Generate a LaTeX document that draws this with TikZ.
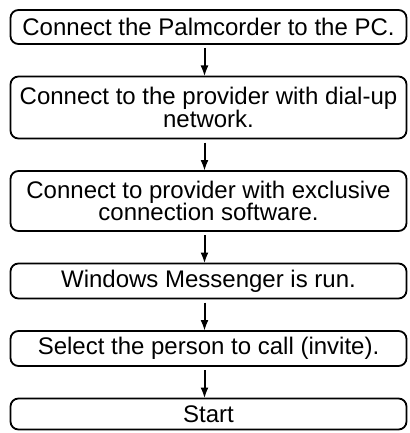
\documentclass[tikz,border=0pt]{standalone}
\usepackage{fontspec}
\setmainfont{Liberation Sans}
\usetikzlibrary{arrows.meta,positioning}

\tikzset{
  task/.style={draw, line width=1.8pt, rounded corners=8pt, minimum width=396pt,
    inner sep=2pt, outer sep=0pt, align=center,
    font=\fontsize{24}{22.5}\selectfont},
  flow/.style={-{Latex[length=11pt,width=8pt]}, line width=2pt, shorten <=4pt}
}

\begin{document}
\begin{tikzpicture}[node distance=32.5pt]
  \useasboundingbox (0pt,0pt) rectangle (409pt,-433pt);
  \node[task, minimum height=34pt] (palm) at (208.5pt,-27pt) {Connect the Palmcorder to the PC.};
  \node[task, minimum height=62pt] (dialup) [below=of palm] {Connect to the provider with dial-up\\network.};
  \node[task, minimum height=60pt] (soft) [below=of dialup] {Connect to provider with exclusive\\connection software.};
  \node[task, minimum height=35pt] (msgr) [below=of soft] {Windows Messenger is run.};
  \node[task, minimum height=35pt] (invite) [below=of msgr] {Select the person to call (invite).};
  \node[task, minimum height=31pt] (start) [below=of invite] {Start};
  \foreach \a/\b in {palm/dialup, dialup/soft, soft/msgr, msgr/invite, invite/start}
    \draw[flow] ([xshift=-4pt]\a.south) -- ([xshift=-4pt]\b.north);
\end{tikzpicture}
\end{document}
